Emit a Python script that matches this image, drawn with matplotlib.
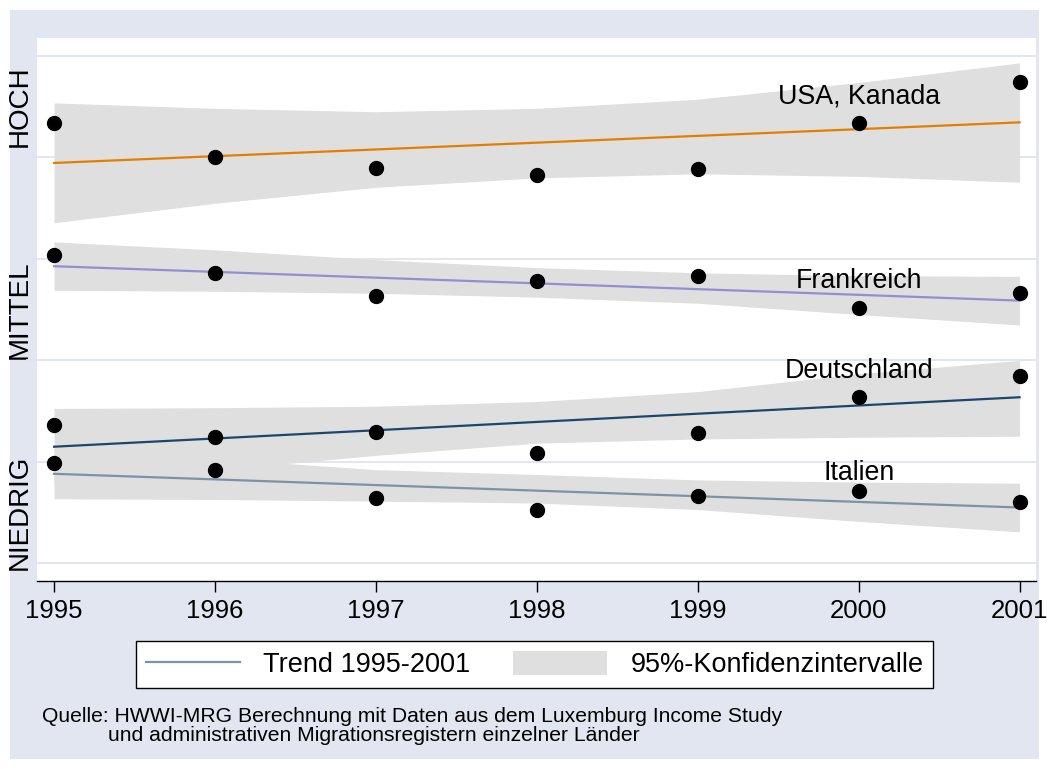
import matplotlib
matplotlib.use("Agg")
import matplotlib.pyplot as plt
from matplotlib.patches import Rectangle, Patch
from matplotlib.lines import Line2D

plt.rcParams['font.family'] = ['Liberation Sans', 'DejaVu Sans']

# Daten
years = [1995, 1996, 1997, 1998, 1999, 2000, 2001]

usa_pts = [4.339, 4.000, 3.894, 3.825, 3.887, 4.339, 4.736]
usa_trend = [3.942, 4.009, 4.075, 4.142, 4.209, 4.275, 4.342]
usa_hi = [4.534, 4.480, 4.447, 4.480, 4.570, 4.735, 4.928]
usa_lo = [3.353, 3.545, 3.702, 3.795, 3.835, 3.810, 3.752]

fra_pts = [3.031, 2.860, 2.630, 2.784, 2.825, 2.517, 2.661]
fra_trend = [2.925, 2.869, 2.812, 2.756, 2.699, 2.643, 2.586]
fra_hi = [3.164, 3.086, 2.990, 2.911, 2.860, 2.832, 2.825]
fra_lo = [2.688, 2.678, 2.658, 2.620, 2.560, 2.449, 2.346]

ger_pts = [1.360, 1.240, 1.295, 1.089, 1.281, 1.634, 1.846]
ger_trend = [1.147, 1.228, 1.309, 1.391, 1.472, 1.553, 1.634]
ger_hi = [1.524, 1.531, 1.546, 1.592, 1.690, 1.866, 1.997]
ger_lo = [0.770, 0.915, 1.062, 1.182, 1.223, 1.240, 1.250]

ita_pts = [0.986, 0.914, 0.640, 0.524, 0.664, 0.709, 0.599]
ita_trend = [0.880, 0.825, 0.769, 0.714, 0.659, 0.603, 0.548]
ita_hi = [1.126, 1.031, 0.921, 0.873, 0.820, 0.798, 0.788]
ita_lo = [0.634, 0.627, 0.611, 0.592, 0.528, 0.411, 0.308]

groups = [
    ("USA, Kanada", usa_pts, usa_trend, usa_hi, usa_lo, "#E37E00", 4.596),
    ("Frankreich", fra_pts, fra_trend, fra_hi, fra_lo, "#938DD2", 2.781),
    ("Deutschland", ger_pts, ger_trend, ger_hi, ger_lo, "#1A476F", 1.890),
    ("Italien", ita_pts, ita_trend, ita_hi, ita_lo, "#7B92A8", 0.890),
]

ylabels = ["HOCH", "MITTEL", "NIEDRIG"]
ylabel_pos = [4.5, 2.5, 0.5]

bg = "#E1E6F1"
grid_col = "#DFE4EF"
band_col = "#DFDFDF"

fig = plt.figure(figsize=(10.49, 7.69), dpi=100)
fig.patch.set_facecolor("white")
fig.patches.append(Rectangle((10/1049, 10/769), 1029/1049, 749/769,
                             transform=fig.transFigure, facecolor=bg,
                             edgecolor="none", zorder=-10))

ax = fig.add_axes([37/1049, 1 - 580.5/769, 999/1049, 542.5/769])
ax.set_facecolor("white")

for y in range(6):
    ax.axhline(y, color=grid_col, lw=1.3, zorder=0)

# Konfidenzbaender zuerst
for name, pts, tr, hi, lo, col, ly in groups:
    ax.fill_between(years, lo, hi, color=band_col, lw=0, zorder=1)

for name, pts, tr, hi, lo, col, ly in groups:
    ax.plot(years, tr, color=col, lw=1.6, zorder=2)
    ax.plot(years, pts, "o", color="black", ms=10, zorder=3)
    ax.text(2000, ly, name, ha="center", va="center", fontsize=19.3, zorder=4)

ax.set_xlim(1994.894, 2001.102)
ax.set_ylim(-0.171, 5.173)

ax.set_xticks(years)
ax.set_xticklabels([str(y) for y in years], fontsize=18.5)
ax.tick_params(axis="x", length=8, width=1, direction="out", pad=5)

ax.set_yticks(ylabel_pos)
ax.set_yticklabels(ylabels, rotation=90, va="center", fontsize=20)
ax.tick_params(axis="y", length=0, pad=3)
ax.set_yticks([1, 2, 3, 4], minor=True)
ax.tick_params(axis="y", which="minor", length=8, color=grid_col, width=1.3)

for s in ["left", "right", "top"]:
    ax.spines[s].set_visible(False)
ax.spines["bottom"].set_color("black")
ax.spines["bottom"].set_linewidth(1)

handles = [Line2D([0], [0], color="#7B92A8", lw=1.6),
           Patch(facecolor=band_col, edgecolor="none")]
leg = fig.legend(handles, ["Trend 1995-2001", "95%-Konfidenzintervalle"],
                 loc="center", bbox_to_anchor=(534.5/1049, 1 - 664.5/769),
                 ncol=2, fontsize=19.5, frameon=True, fancybox=False,
                 framealpha=1, handlelength=3.5, handleheight=1.0,
                 handletextpad=0.85, columnspacing=1.55, borderpad=0.35,
                 borderaxespad=0)
leg.get_frame().set_edgecolor("black")
leg.get_frame().set_linewidth(1)
leg.get_frame().set_facecolor("white")

# Quellenangabe, enger Zeilenabstand wie im Original
fig.text(42/1049, 1 - 721.7/769, "Quelle: HWWI-MRG Berechnung mit Daten aus dem Luxemburg Income Study",
         ha="left", va="baseline", fontsize=15.2)
fig.text(108/1049, 1 - 740.7/769, "und administrativen Migrationsregistern einzelner Länder",
         ha="left", va="baseline", fontsize=15.2)

fig.savefig("out.png", dpi=100, facecolor=fig.get_facecolor())
